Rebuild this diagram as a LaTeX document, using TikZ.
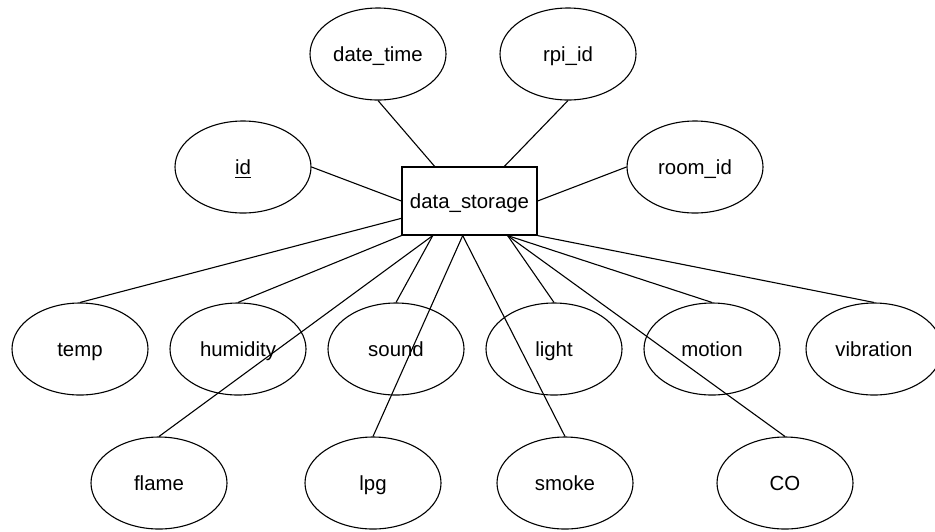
\documentclass[tikz,border=0pt]{standalone}
\usepackage{fontspec}
\setmainfont{Liberation Sans}
\usetikzlibrary{shapes.geometric,calc}
\begin{document}
\begin{tikzpicture}[x=0.5pt,y=-0.5pt,
  label text/.style={font=\fontsize{10.2}{12}\selectfont,text height=8.4pt,text depth=1.2pt},
  attr/.style={ellipse,draw=black,line width=0.55pt,minimum width=68pt,minimum height=46pt,inner sep=0pt,label text},
  entity/.style={rectangle,draw=black,line width=0.6pt,minimum width=67.5pt,minimum height=34pt,inner sep=0pt,label text},
  link/.style={draw=black,line width=0.55pt}]
\useasboundingbox (0,0) rectangle (935,531);

% entity
\node[entity] (ds) at (469.5,201) {data\_storage};

% attributes above the entity
\node[attr] (dt)   at (378,54)  {date\_time};
\node[attr] (rpi)  at (568,54)  {rpi\_id};
\node[attr] (id)   at (243,167) {\underline{id}};
\node[attr] (room) at (695,167) {room\_id};

% first row of sensor attributes
\node[attr] (temp)   at (80,349)  {temp};
\node[attr] (hum)    at (238,349) {humidity};
\node[attr] (sound)  at (396,349) {sound};
\node[attr] (light)  at (554,349) {light};
\node[attr] (motion) at (712,349) {motion};
\node[attr] (vib)    at (874,349) {vibration};

% second row of sensor attributes
\node[attr] (flame) at (159,483) {flame};
\node[attr] (lpg)   at (373,483) {lpg};
\node[attr] (smoke) at (565,483) {smoke};
\node[attr] (co)    at (785,483) {CO};

% connectors
\draw[link] (dt.south)  -- ($(ds.north west)!0.244!(ds.north east)$);
\draw[link] (rpi.south) -- ($(ds.north west)!0.756!(ds.north east)$);
\draw[link] (id.east)   -- (ds.west);
\draw[link] (room.west) -- (ds.east);
\draw[link] (temp.north) -- ($(ds.west)!0.5!(ds.south west)$);
\draw[link] (hum.north)  -- (ds.south west);
\draw[link] (sound.north) -- ($(ds.south west)!0.23!(ds.south east)$);
\draw[link] (flame.north) -- ($(ds.south west)!0.23!(ds.south east)$);
\draw[link] (lpg.north)   -- ($(ds.south west)!0.45!(ds.south east)$);
\draw[link] (smoke.north) -- ($(ds.south west)!0.45!(ds.south east)$);
\draw[link] (light.north) -- ($(ds.south west)!0.78!(ds.south east)$);
\draw[link] (motion.north) -- ($(ds.south west)!0.78!(ds.south east)$);
\draw[link] (co.north)    -- ($(ds.south west)!0.78!(ds.south east)$);
\draw[link] (vib.north)   -- (ds.south east);
\end{tikzpicture}
\end{document}
